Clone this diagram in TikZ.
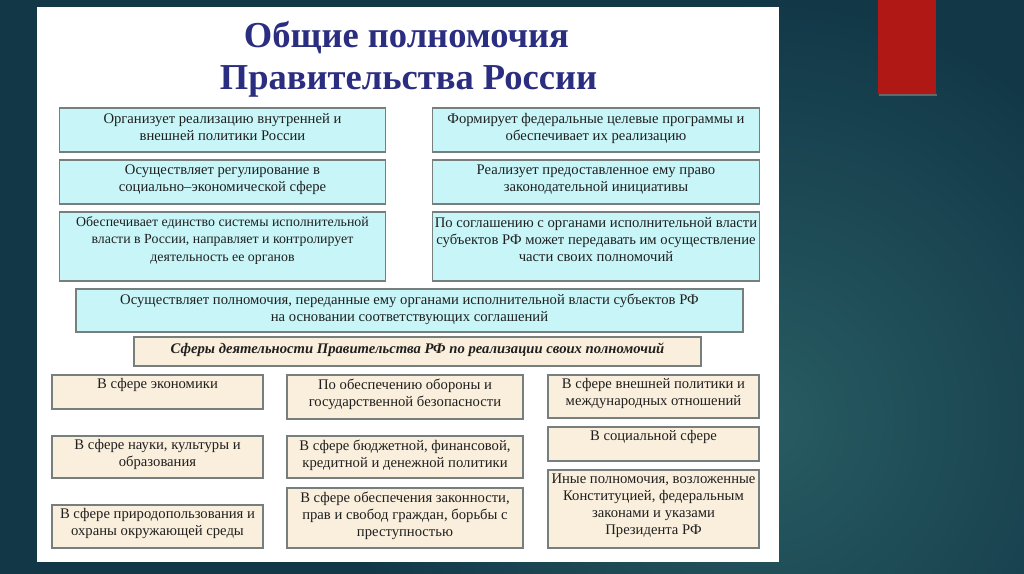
\documentclass[tikz,border=0pt]{standalone}
\usepackage{fontspec}
\setmainfont{Liberation Serif}
\usetikzlibrary{positioning}

\definecolor{slideinner}{RGB}{40,92,98}
\definecolor{slideouter}{RGB}{18,56,72}
\definecolor{accentred}{RGB}{176,24,22}
\definecolor{titlenavy}{RGB}{43,46,128}
\definecolor{dutycyan}{RGB}{200,246,248}
\definecolor{spherebeige}{RGB}{250,239,220}
\definecolor{edgegrey}{RGB}{118,126,126}

\begin{document}
\begin{tikzpicture}[x=0.75pt, y=-0.75pt,
  font=\fontsize{11}{12.8}\selectfont,
  title/.style={font=\fontsize{27.4}{30}\selectfont\bfseries, titlenavy, anchor=base},
  duty/.style={draw=edgegrey, line width=0.9pt, fill=dutycyan,
               minimum width=245pt, inner sep=0pt},
  sphere/.style={draw=edgegrey, line width=0.9pt, fill=spherebeige, inner sep=0pt},
  label/.style={align=center, inner sep=0pt, black!88},
]
\useasboundingbox (0,0) rectangle (1024,574);

% ============ slide background ============
\fill[slideouter] (0,0) rectangle (1024,574);
\begin{scope}
  \clip (0,0) rectangle (1024,574);
  \shade[inner color=slideinner, outer color=slideouter] (760,420) circle[radius=420];
\end{scope}
\fill[black!60] (879,94) rectangle (937,96);
\fill[accentred] (878,0) rectangle (936,94);
\fill[white] (37,7) rectangle (779,562);

% ============ title ============
\node[title] (head1) at (406.5,48) {Общие полномочия};
\node[title] (head2) at (408.5,90) {Правительства России};

% ============ general powers (left column) ============
\node[duty, minimum height=33pt] (l1) at (222.5,130) {};
\node[duty, minimum height=33pt] (l2) at (222.5,182) {};
\node[duty, minimum height=51.75pt] (l3) at (222.5,246.5) {};
\node[label, below=4pt of l1.north] (tl1) {Организует реализацию внутренней и\\внешней политики России};
\node[label, below=4pt of l2.north] (tl2) {Осуществляет регулирование в\\социально–экономической сфере};
\node[label, font=\fontsize{10.4}{12.8}\selectfont, below=4pt of l3.north] (tl3)
  {Обеспечивает единство системы исполнительной\\власти в России, направляет и контролирует\\деятельность ее органов};

% ============ general powers (right column) ============
\node[duty, minimum height=33pt] (r1) at (596,130) {};
\node[duty, minimum height=33pt] (r2) at (596,182) {};
\node[duty, minimum height=51.75pt] (r3) at (596,246.5) {};
\node[label, below=4pt of r1.north] (tr1) {Формирует федеральные целевые программы и\\обеспечивает их реализацию};
\node[label, below=4pt of r2.north] (tr2) {Реализует предоставленное ему право\\законодательной инициативы};
\node[label, below=4pt of r3.north] (tr3) {По соглашению с органами исполнительной власти\\субъектов РФ может передавать им осуществление\\части своих полномочий};

% wide box across both columns
\node[duty, minimum width=500.25pt, minimum height=32.25pt] (wide) at (409.5,310.5) {};
\node[label, below=4pt of wide.north] (twide) {Осуществляет полномочия, переданные ему органами исполнительной власти субъектов РФ\\на основании соответствующих соглашений};

% ============ spheres of activity ============
\node[sphere, minimum width=425.25pt, minimum height=21.75pt] (spheres) at (417.5,351.5) {};
\node[label, font=\fontsize{11}{12.8}\selectfont\bfseries\itshape, below=5pt of spheres.north] (tspheres)
  {Сферы деятельности Правительства РФ по реализации своих полномочий};

% column 1
\node[sphere, minimum width=158.25pt, minimum height=25.5pt] (a1) at (157.5,392) {};
\node[sphere, minimum width=158.25pt, minimum height=31.5pt] (a2) at (157.5,457) {};
\node[sphere, minimum width=158.25pt, minimum height=32.25pt] (a3) at (157.5,526.5) {};
\node[label, below=3pt of a1.north] (ta1) {В сфере экономики};
\node[label, below=3pt of a2.north] (ta2) {В сфере науки, культуры и\\образования};
\node[label, below=3pt of a3.north] (ta3) {В сфере природопользования и\\охраны окружающей среды};

% column 2
\node[sphere, minimum width=177pt, minimum height=33pt] (b1) at (405,397) {};
\node[sphere, minimum width=177pt, minimum height=31.5pt] (b2) at (405,457) {};
\node[sphere, minimum width=177pt, minimum height=45pt] (b3) at (405,518) {};
\node[label, below=3pt of b1.north] (tb1) {По обеспечению обороны и\\государственной безопасности};
\node[label, below=3pt of b2.north] (tb2) {В сфере бюджетной, финансовой,\\кредитной и денежной политики};
\node[label, below=3pt of b3.north] (tb3) {В сфере обеспечения законности,\\прав и свобод граждан, борьбы с\\преступностью};

% column 3
\node[sphere, minimum width=158.25pt, minimum height=32.25pt] (c1) at (653.5,396.5) {};
\node[sphere, minimum width=158.25pt, minimum height=25.5pt] (c2) at (653.5,444) {};
\node[sphere, minimum width=158.25pt, minimum height=58.5pt] (c3) at (653.5,509) {};
\node[label, below=3pt of c1.north] (tc1) {В сфере внешней политики и\\международных отношений};
\node[label, below=3pt of c2.north] (tc2) {В социальной сфере};
\node[label, below=3pt of c3.north] (tc3) {Иные полномочия, возложенные\\Конституцией, федеральным\\законами и указами\\Президента РФ};

\end{tikzpicture}
\end{document}
